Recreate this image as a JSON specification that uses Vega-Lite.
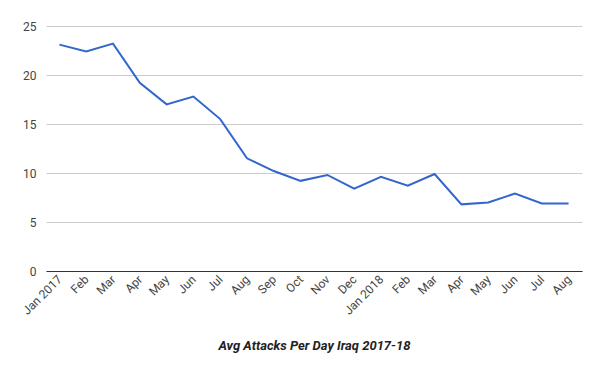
{
  "$schema": "https://vega.github.io/schema/vega-lite/v6.json",
  "width": 536,
  "height": 245,
  "autosize": {"type": "none"},
  "padding": {"left": 46, "top": 26, "right": 18, "bottom": 100},
  "background": "white",
  "config": {"view": {"stroke": null}, "font": "Roboto"},
  "data": {
    "values": [
      {"date": "2017-01-15", "attacks": 23.1},
      {"date": "2017-02-15", "attacks": 22.4},
      {"date": "2017-03-15", "attacks": 23.2},
      {"date": "2017-04-15", "attacks": 19.2},
      {"date": "2017-05-15", "attacks": 17.0},
      {"date": "2017-06-15", "attacks": 17.8},
      {"date": "2017-07-15", "attacks": 15.5},
      {"date": "2017-08-15", "attacks": 11.5},
      {"date": "2017-09-15", "attacks": 10.2},
      {"date": "2017-10-15", "attacks": 9.2},
      {"date": "2017-11-15", "attacks": 9.8},
      {"date": "2017-12-15", "attacks": 8.4},
      {"date": "2018-01-15", "attacks": 9.6},
      {"date": "2018-02-15", "attacks": 8.7},
      {"date": "2018-03-15", "attacks": 9.9},
      {"date": "2018-04-15", "attacks": 6.8},
      {"date": "2018-05-15", "attacks": 7.0},
      {"date": "2018-06-15", "attacks": 7.9},
      {"date": "2018-07-15", "attacks": 6.9},
      {"date": "2018-08-15", "attacks": 6.9}
    ]
  },
  "mark": {"type": "line", "color": "#3366cc", "strokeWidth": 2},
  "encoding": {
    "x": {
      "field": "date",
      "timeUnit": "yearmonth",
      "type": "ordinal",
      "scale": {"type": "point", "padding": 0.5},
      "axis": {
        "title": "Avg Attacks Per Day Iraq 2017-18",
        "titleFont": "Roboto",
        "titleFontStyle": "italic",
        "titleFontWeight": "bold",
        "titleFontSize": 13,
        "titleColor": "#222222",
        "titleY": 74,
        "titleBaseline": "middle",
        "labelExpr": "month(datum.value) == 0 ? timeFormat(datum.value, '%b %Y') : timeFormat(datum.value, '%b')",
        "labelAngle": -45,
        "labelAlign": "right",
        "labelBaseline": "middle",
        "labelOverlap": false,
        "labelFontSize": 12,
        "labelColor": "#444444",
        "labelPadding": 6,
        "ticks": false,
        "domainColor": "#333333",
        "domainWidth": 1,
        "grid": false
      }
    },
    "y": {
      "field": "attacks",
      "type": "quantitative",
      "scale": {"domain": [0, 25]},
      "axis": {
        "title": null,
        "values": [0, 5, 10, 15, 20, 25],
        "domain": false,
        "ticks": false,
        "labelFontSize": 12,
        "labelColor": "#444444",
        "labelPadding": 10,
        "gridColor": "#cccccc"
      }
    }
  }
}
